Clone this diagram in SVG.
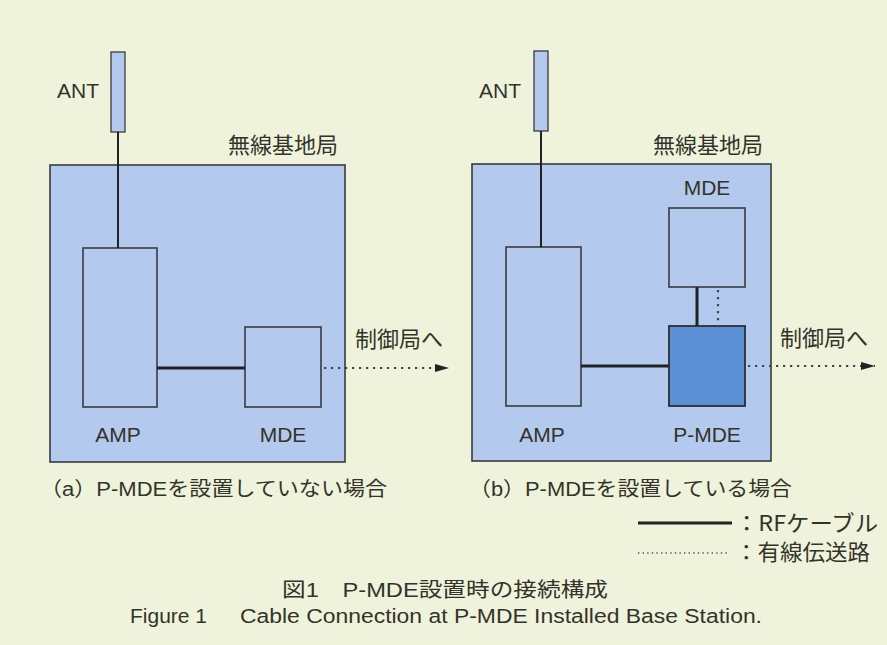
<svg xmlns="http://www.w3.org/2000/svg" width="887" height="645" viewBox="0 0 887 645">
<defs>
<style>
.bg{fill:#eff3dc}
.station{fill:#b4c9ee;stroke:#3a3a3a;stroke-width:1.6}
.unit{fill:#b4c9ee;stroke:#3a3a3a;stroke-width:1.6}
.ant{fill:#b4c9ee;stroke:#3a3a3a;stroke-width:1.3}
.pmde{fill:#5b8fd6;stroke:#2e2e2e;stroke-width:1.8}
.rf{stroke:#222;stroke-width:3;fill:none}
.rfthin{stroke:#222;stroke-width:2;fill:none}
.wire{stroke:#444;stroke-width:2.2;stroke-dasharray:2.2 4.8;fill:none}
.wirefine{stroke:#555;stroke-width:1.4;stroke-dasharray:1.4 3.2;fill:none}
text{fill:#33332a}
.lat{font-family:"Liberation Sans","Noto Sans CJK JP",sans-serif;font-size:21px}
.jp{font-family:"Noto Sans CJK JP","Liberation Sans",sans-serif;font-size:22px}
.cap{font-family:"Liberation Sans","Noto Sans CJK JP",sans-serif;font-size:20px}
</style>
<marker id="arr" viewBox="0 0 14 8" refX="14" refY="4" markerWidth="14" markerHeight="8" markerUnits="userSpaceOnUse" orient="auto">
<path d="M0,0 L14,4 L0,8 z" fill="#222"/>
</marker>
</defs>
<rect class="bg" x="0" y="0" width="887" height="645"/>

<!-- Panel (a) -->
<g id="a-station">
<rect class="station" x="50" y="165" width="295" height="297"/>
<text class="jp" x="228" y="153">無線基地局</text>
</g>
<g id="a-ant">
<rect class="ant" x="111" y="52" width="14" height="80"/>
<text class="lat" x="57" y="98">ANT</text>
</g>
<g id="a-amp">
<rect class="unit" x="83" y="248" width="74" height="159"/>
<text class="lat" x="118" y="442" text-anchor="middle">AMP</text>
</g>
<g id="a-mde">
<rect class="unit" x="245" y="327" width="76" height="80"/>
<text class="lat" x="283" y="442" text-anchor="middle">MDE</text>
</g>
<g id="a-ctrl">
<text class="jp" x="355" y="347">制御局へ</text>
</g>
<text class="cap" x="40" y="496" textLength="347" lengthAdjust="spacingAndGlyphs">（a）P-MDEを設置していない場合</text>

<!-- Panel (b) -->
<g id="b-station">
<rect class="station" x="472" y="164" width="299" height="297"/>
<text class="jp" x="653" y="153">無線基地局</text>
</g>
<g id="b-ant">
<rect class="ant" x="534" y="51" width="14" height="80"/>
<text class="lat" x="479" y="98">ANT</text>
</g>
<g id="b-amp">
<rect class="unit" x="506" y="247" width="75" height="159"/>
<text class="lat" x="542" y="442" text-anchor="middle">AMP</text>
</g>
<g id="b-mde">
<rect class="unit" x="669" y="208" width="76" height="79"/>
<text class="lat" x="707" y="195" text-anchor="middle">MDE</text>
</g>
<g id="b-pmde">
<rect class="pmde" x="669" y="326" width="76" height="80"/>
<text class="lat" x="707" y="442" text-anchor="middle">P-MDE</text>
</g>
<g id="b-ctrl">
<text class="jp" x="780" y="346">制御局へ</text>
</g>
<text class="cap" x="469" y="496" textLength="323" lengthAdjust="spacingAndGlyphs">（b）P-MDEを設置している場合</text>

<!-- Connectors -->
<g id="connectors">
<line class="rfthin" x1="118" y1="132" x2="118" y2="248"/>
<line class="rf" x1="157" y1="368" x2="245" y2="368"/>
<line class="wire" x1="324" y1="368" x2="449" y2="368" marker-end="url(#arr)"/>
<line class="rfthin" x1="541" y1="131" x2="541" y2="247"/>
<line class="rf" x1="581" y1="366" x2="669" y2="366"/>
<line class="rf" x1="697" y1="287" x2="697" y2="326"/>
<line class="wire" x1="718" y1="290" x2="718" y2="326"/>
<line class="wire" x1="748" y1="366" x2="875" y2="366" marker-end="url(#arr)"/>
</g>

<!-- Legend -->
<g id="legend">
<line class="rf" x1="638" y1="523" x2="732" y2="523"/>
<line class="wirefine" x1="638" y1="553" x2="730" y2="553"/>
<text class="jp" x="735" y="531" textLength="143" lengthAdjust="spacingAndGlyphs">：RFケーブル</text>
<text class="jp" x="735" y="560" textLength="135" lengthAdjust="spacingAndGlyphs">：有線伝送路</text>
</g>

<!-- Caption -->
<text class="cap" x="282" y="597" textLength="326" lengthAdjust="spacingAndGlyphs">図1　P-MDE設置時の接続構成</text>
<text class="cap" x="130" y="623" font-size="21.5" textLength="77" lengthAdjust="spacingAndGlyphs">Figure 1</text>
<text class="cap" x="240" y="623" font-size="21.5" textLength="522" lengthAdjust="spacingAndGlyphs">Cable Connection at P-MDE Installed Base Station.</text>
</svg>
